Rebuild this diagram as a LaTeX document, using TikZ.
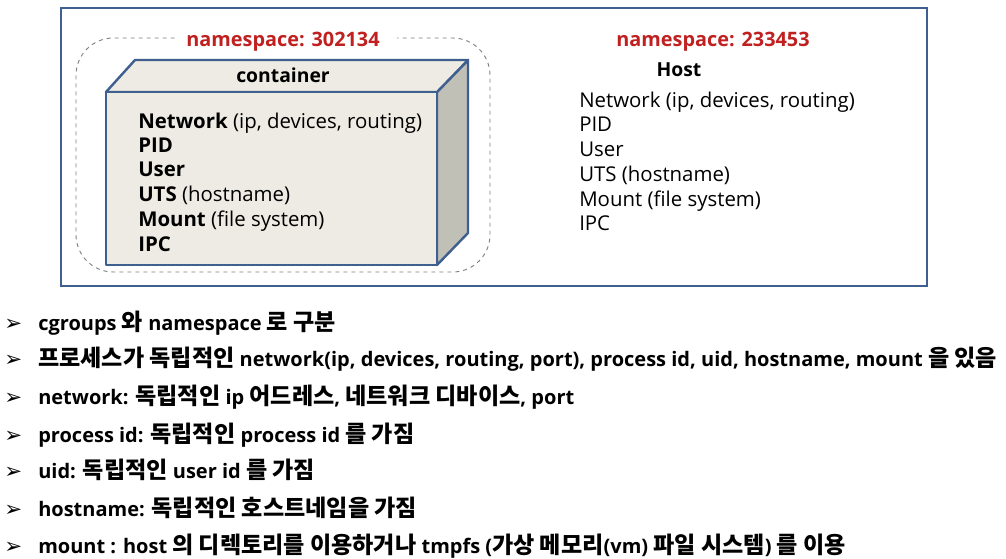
\documentclass[tikz,border=0pt]{standalone}
\usepackage{fontspec}
\setmainfont{Open Sans}
\newfontfamily\krfont{Noto Sans CJK KR}
\newfontfamily\symfont{DejaVu Sans}
\newcommand\kr[1]{{\krfont\fontsize{17.3}{19}\selectfont #1}}
\definecolor{frameblue}{HTML}{3F5F8F}
\definecolor{nsred}{HTML}{C0201F}
\definecolor{frontfill}{HTML}{EDEBE3}
\definecolor{sidefill}{HTML}{C1C0B7}
\definecolor{dashgray}{HTML}{808080}
\tikzset{
  ptext/.style={anchor=base west, inner sep=0pt, font=\fontsize{15.3}{17}\selectfont},
  hdr/.style={anchor=base, inner sep=0pt, font=\fontsize{14.5}{16}\selectfont\bfseries},
  nslabel/.style={anchor=base, inner sep=0pt, text=nsred, font=\fontsize{14.9}{16}\selectfont\bfseries},
  bul/.style={anchor=base west, inner sep=0pt, font=\fontsize{15}{17}\selectfont\bfseries},
  arr/.style={anchor=base west, inner sep=0pt, font=\fontsize{16}{18}\symfont},
  boxedge/.style={draw=frameblue, line width=1.8pt, line join=round}
}
\begin{document}
\begin{tikzpicture}[x=0.75pt,y=-0.75pt]
\useasboundingbox (0,0) rectangle (1006,559);
% outer frame
\draw[draw=frameblue, line width=1.5pt] (61,8) rectangle (927,286);
% dashed namespace region
\draw[dashgray, dashed, line width=0.7pt, rounded corners=28pt] (76,38) rectangle (490,272);
\fill[white] (175,30) rectangle (397,50);
\node[nslabel] (ns1) at (283,47) {namespace: 302134};
% container box
\filldraw[boxedge, fill=sidefill] (437,92) -- (468,60) -- (468,233) -- (437,265) -- cycle;
\filldraw[boxedge, fill=frontfill] (106,92) -- (135,60) -- (468,60) -- (437,92) -- cycle;
\filldraw[boxedge, fill=frontfill] (106,92) rectangle (437,265);
\node[hdr] (ctitle) at (283,83) {container};
\node[ptext] (c1) at (138,129) {\textbf{Network} (ip, devices, routing)};
\node[ptext] (c2) at (138,153) {\textbf{PID}};
\node[ptext] (c3) at (138,177) {\textbf{User}};
\node[ptext] (c4) at (138,202) {\textbf{UTS} (hostname)};
\node[ptext] (c5) at (138,227) {\textbf{Mount} (file system)};
\node[ptext] (c6) at (138,252) {\textbf{IPC}};
% host
\node[nslabel] (ns2) at (713,47) {namespace: 233453};
\node[hdr] (host) at (679,77) {Host};
\node[ptext] (h1) at (579,108) {Network (ip, devices, routing)};
\node[ptext] (h2) at (579,132) {PID};
\node[ptext] (h3) at (579,157) {User};
\node[ptext] (h4) at (579,182) {UTS (hostname)};
\node[ptext] (h5) at (579,207) {Mount (file system)};
\node[ptext] (h6) at (579,231) {IPC};
% bullets
\foreach \y/\n in {330/1,367/2,404/3,442/4,478/5,516/6,553/7}{
  \node[arr] (a\n) at (4,\y) {➢};
}
\node[bul] (b1) at (38,330) {cgroups \kr{와} namespace \kr{로 구분}};
\node[bul] (b2) at (38,367) {\kr{프로세스가 독립적인} network(ip, devices, routing, port), process id, uid, hostname, mount \kr{을 있음}};
\node[bul] (b3) at (38,404) {network: \kr{독립적인} ip \kr{어드레스}, \kr{네트워크 디바이스}, port};
\node[bul] (b4) at (38,442) {process id: \kr{독립적인} process id \kr{를 가짐}};
\node[bul] (b5) at (38,478) {uid: \kr{독립적인} user id \kr{를 가짐}};
\node[bul] (b6) at (38,516) {hostname: \kr{독립적인 호스트네임을 가짐}};
\node[bul] (b7) at (38,553) {mount : host \kr{의 디렉토리를 이용하거나} tmpfs (\kr{가상 메모리}(vm) \kr{파일 시스템}) \kr{를 이용}};
\end{tikzpicture}
\end{document}
